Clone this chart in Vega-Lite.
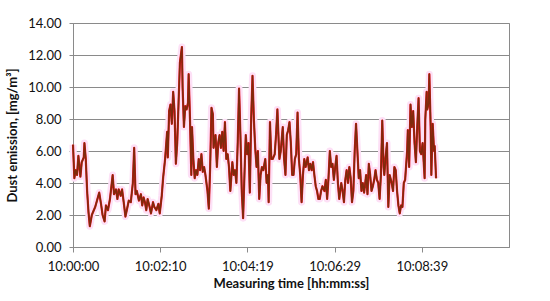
{
  "$schema": "https://vega.github.io/schema/vega-lite/v6.json",
  "width": 436,
  "height": 224,
  "autosize": {"type": "none"},
  "padding": {"left": 73, "top": 23, "right": 41, "bottom": 54},
  "background": "white",
  "config": {
    "font": "Lato",
    "view": {"stroke": "#8a8a8a", "strokeWidth": 1},
    "axis": {
      "labelFont": "Lato", "labelFontSize": 13, "labelColor": "#111",
      "titleFont": "Lato", "titleFontSize": 13, "titleFontWeight": "bold", "titleColor": "#111",
      "domainColor": "#8a8a8a", "tickColor": "#8a8a8a", "gridColor": "#8a8a8a", "gridOpacity": 1
    }
  },
  "data": {"values": [
    {"t":0,"v":6.4},{"t":2,"v":4.3},{"t":4,"v":4.8},{"t":6,"v":4.5},{"t":8,"v":5.7},{"t":11,"v":4.4},{"t":13,"v":5.3},{"t":16,"v":5.6},{"t":17,"v":6.5},{"t":19,"v":5.5},
    {"t":21,"v":3.5},{"t":23,"v":2.2},{"t":25,"v":1.3},{"t":28,"v":2.0},{"t":30,"v":2.2},{"t":33,"v":2.5},{"t":35,"v":2.8},{"t":39,"v":3.4},{"t":42,"v":2.6},{"t":44,"v":2.0},
    {"t":47,"v":1.6},{"t":49,"v":2.6},{"t":52,"v":2.3},{"t":55,"v":3.0},{"t":59,"v":4.5},{"t":61,"v":3.3},{"t":64,"v":3.6},{"t":66,"v":3.0},{"t":68,"v":3.6},{"t":71,"v":3.2},
    {"t":73,"v":3.6},{"t":76,"v":2.6},{"t":78,"v":1.9},{"t":81,"v":2.5},{"t":83,"v":2.9},{"t":86,"v":2.8},{"t":89,"v":4.0},{"t":91,"v":6.2},{"t":93,"v":3.3},{"t":95,"v":3.5},
    {"t":98,"v":2.9},{"t":101,"v":3.3},{"t":103,"v":2.6},{"t":105,"v":3.1},{"t":107,"v":2.8},{"t":109,"v":2.3},{"t":111,"v":3.0},{"t":114,"v":2.5},{"t":116,"v":2.1},{"t":119,"v":2.8},
    {"t":121,"v":2.5},{"t":124,"v":2.3},{"t":127,"v":2.7},{"t":129,"v":2.1},{"t":132,"v":3.2},{"t":134,"v":4.3},{"t":137,"v":5.5},{"t":140,"v":7.2},{"t":141,"v":5.6},{"t":143,"v":8.5},
    {"t":145,"v":8.9},{"t":147,"v":7.7},{"t":149,"v":9.7},{"t":151,"v":8.5},{"t":153,"v":5.2},{"t":155,"v":6.5},{"t":157,"v":9.0},{"t":159,"v":11.5},{"t":162,"v":12.5},{"t":163,"v":10.0},
    {"t":165,"v":7.5},{"t":167,"v":8.8},{"t":169,"v":8.6},{"t":171,"v":9.0},{"t":172,"v":10.8},{"t":174,"v":8.0},{"t":176,"v":4.5},{"t":177,"v":7.5},{"t":179,"v":5.5},{"t":181,"v":4.3},
    {"t":183,"v":4.8},{"t":185,"v":4.5},{"t":187,"v":5.5},{"t":189,"v":4.8},{"t":191,"v":5.8},{"t":193,"v":4.7},{"t":195,"v":5.0},{"t":197,"v":4.5},{"t":200,"v":3.5},{"t":202,"v":2.4},
    {"t":204,"v":5.0},{"t":206,"v":8.7},{"t":208,"v":8.3},{"t":209,"v":6.2},{"t":212,"v":7.0},{"t":214,"v":5.0},{"t":216,"v":6.5},{"t":218,"v":7.0},{"t":220,"v":6.2},{"t":222,"v":7.2},
    {"t":224,"v":6.0},{"t":226,"v":7.8},{"t":228,"v":5.5},{"t":230,"v":5.8},{"t":232,"v":5.0},{"t":234,"v":3.5},{"t":237,"v":5.3},{"t":239,"v":4.5},{"t":241,"v":4.8},{"t":243,"v":4.0},
    {"t":245,"v":6.5},{"t":247,"v":9.9},{"t":249,"v":7.0},{"t":251,"v":3.5},{"t":253,"v":1.8},{"t":255,"v":4.5},{"t":257,"v":7.0},{"t":259,"v":5.8},{"t":261,"v":6.5},{"t":263,"v":3.4},
    {"t":265,"v":8.0},{"t":267,"v":10.7},{"t":269,"v":8.0},{"t":271,"v":6.2},{"t":273,"v":5.0},{"t":275,"v":6.0},{"t":277,"v":3.0},{"t":279,"v":4.5},{"t":281,"v":5.0},{"t":283,"v":4.8},
    {"t":286,"v":5.5},{"t":288,"v":4.0},{"t":290,"v":4.5},{"t":291,"v":2.8},{"t":293,"v":7.8},{"t":295,"v":5.5},{"t":297,"v":5.5},{"t":300,"v":5.8},{"t":302,"v":7.0},{"t":304,"v":8.6},
    {"t":306,"v":6.5},{"t":307,"v":5.5},{"t":309,"v":6.0},{"t":312,"v":7.5},{"t":314,"v":5.5},{"t":316,"v":4.5},{"t":318,"v":7.0},{"t":320,"v":7.3},{"t":322,"v":7.8},{"t":324,"v":6.5},
    {"t":326,"v":4.5},{"t":328,"v":4.5},{"t":330,"v":5.5},{"t":332,"v":5.8},{"t":334,"v":8.4},{"t":336,"v":5.5},{"t":338,"v":4.5},{"t":340,"v":2.8},{"t":342,"v":4.5},{"t":344,"v":5.5},
    {"t":346,"v":5.0},{"t":349,"v":5.6},{"t":351,"v":4.8},{"t":353,"v":5.2},{"t":355,"v":4.8},{"t":357,"v":5.3},{"t":359,"v":4.5},{"t":361,"v":3.8},{"t":363,"v":3.5},{"t":365,"v":3.0},
    {"t":367,"v":3.0},{"t":369,"v":3.5},{"t":371,"v":3.8},{"t":374,"v":3.5},{"t":376,"v":4.2},{"t":378,"v":3.0},{"t":380,"v":4.3},{"t":382,"v":6.0},{"t":384,"v":5.0},{"t":386,"v":5.2},
    {"t":388,"v":4.2},{"t":390,"v":5.0},{"t":392,"v":5.7},{"t":394,"v":4.0},{"t":396,"v":3.0},{"t":399,"v":4.0},{"t":401,"v":3.5},{"t":403,"v":2.8},{"t":405,"v":4.2},{"t":407,"v":4.8},
    {"t":409,"v":4.0},{"t":411,"v":5.0},{"t":413,"v":4.3},{"t":415,"v":2.8},{"t":417,"v":3.5},{"t":419,"v":6.0},{"t":421,"v":7.7},{"t":423,"v":6.0},{"t":425,"v":4.3},{"t":427,"v":4.8},
    {"t":429,"v":3.5},{"t":431,"v":4.0},{"t":433,"v":3.4},{"t":436,"v":4.5},{"t":438,"v":3.3},{"t":440,"v":5.2},{"t":442,"v":4.5},{"t":444,"v":3.5},{"t":446,"v":3.8},{"t":448,"v":4.2},
    {"t":450,"v":4.8},{"t":452,"v":4.2},{"t":454,"v":4.0},{"t":456,"v":3.0},{"t":458,"v":4.5},{"t":460,"v":7.9},{"t":462,"v":5.0},{"t":463,"v":4.5},{"t":465,"v":5.6},{"t":467,"v":6.5},
    {"t":469,"v":2.5},{"t":471,"v":4.5},{"t":474,"v":4.0},{"t":476,"v":3.5},{"t":478,"v":5.0},{"t":480,"v":4.8},{"t":482,"v":3.5},{"t":484,"v":2.6},{"t":486,"v":2.1},{"t":488,"v":2.6},
    {"t":490,"v":2.5},{"t":492,"v":4.0},{"t":494,"v":4.2},{"t":497,"v":6.0},{"t":498,"v":7.3},{"t":500,"v":5.0},{"t":502,"v":8.9},{"t":504,"v":7.5},{"t":506,"v":8.5},{"t":508,"v":6.5},
    {"t":510,"v":5.3},{"t":512,"v":7.5},{"t":514,"v":9.3},{"t":516,"v":6.0},{"t":518,"v":5.8},{"t":520,"v":6.5},{"t":523,"v":4.3},{"t":524,"v":8.0},{"t":526,"v":9.7},{"t":527,"v":8.6},
    {"t":529,"v":9.0},{"t":530,"v":10.8},{"t":532,"v":7.5},{"t":533,"v":4.5},{"t":535,"v":7.7},{"t":537,"v":6.0},{"t":538,"v":6.3},{"t":540,"v":4.3}
  ]},
  "encoding": {
    "x": {
      "field": "t", "type": "quantitative",
      "scale": {"domain": [0, 648.5], "nice": false, "zero": false},
      "axis": {
        "title": "Measuring time [hh:mm:ss]",
        "values": [0, 129.7, 259.4, 389.1, 518.8],
        "labelExpr": "'10:' + (floor(round(datum.value)/60) < 10 ? '0' : '') + floor(round(datum.value)/60) + ':' + (round(datum.value)%60 < 10 ? '0' : '') + round(datum.value)%60",
        "labelFlush": false, "grid": false, "tickSize": 5, "labelPadding": 8, "titlePadding": 4
      }
    },
    "y": {
      "field": "v", "type": "quantitative",
      "scale": {"domain": [0, 14], "nice": false},
      "axis": {
        "title": "Dust emission, [mg/m³]",
        "values": [0, 2, 4, 6, 8, 10, 12, 14],
        "format": ".2f", "grid": true, "tickSize": 4, "labelPadding": 8, "titlePadding": 8, "labelFlush": false
      }
    }
  },
  "layer": [
    {"mark": {"type": "line", "color": "#fde0f6", "strokeWidth": 7, "strokeJoin": "round"}},
    {"mark": {"type": "line", "color": "#e3141c", "strokeWidth": 2.2, "strokeJoin": "round"}},
    {"mark": {"type": "line", "color": "#7f2a0c", "strokeWidth": 1.5, "strokeJoin": "round"}}
  ]
}
